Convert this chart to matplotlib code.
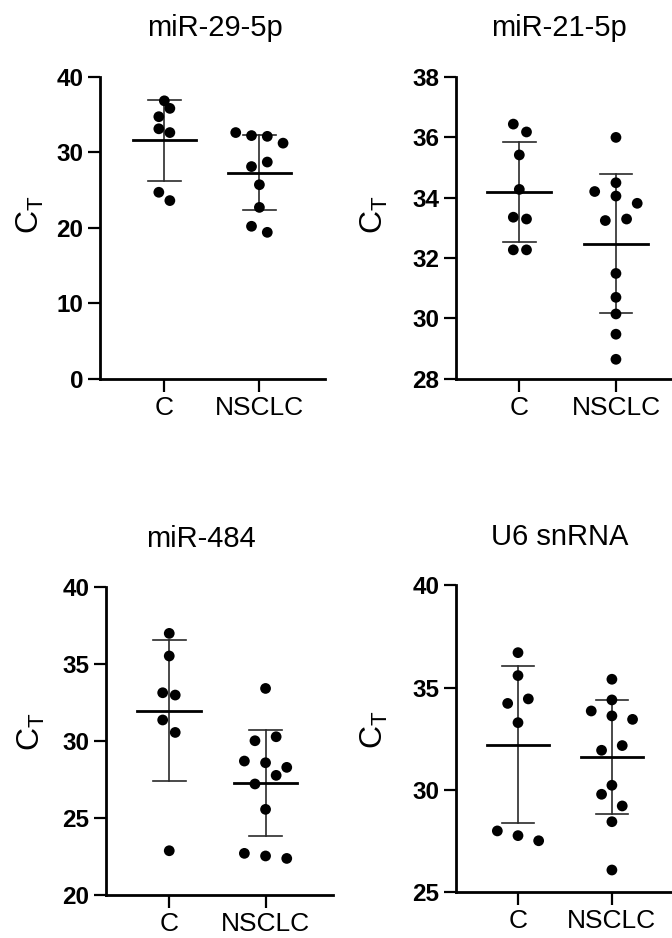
import matplotlib
matplotlib.use("Agg")
import matplotlib.pyplot as plt
import numpy as np

plt.rcParams['font.family'] = ['Liberation Sans', 'DejaVu Sans']
plt.rcParams['mathtext.fontset'] = 'custom'
plt.rcParams['mathtext.rm'] = 'Liberation Sans'
plt.rcParams['mathtext.it'] = 'Liberation Sans'

# ---------------- data ----------------
groups = ["C", "NSCLC"]
titles = ["miR-29-5p", "miR-21-5p", "miR-484", "U6 snRNA"]

mir29_c = [36.8, 35.8, 34.7, 33.1, 32.6, 24.7, 23.6]
mir29_n = [32.6, 32.2, 32.1, 31.2, 28.7, 28.1, 25.7, 22.7, 20.2, 19.4]
mir29_mean = [31.6, 27.3]
mir29_sd = [5.35, 5.0]

mir21_c = [36.43, 36.17, 35.41, 34.27, 33.35, 33.29, 32.27, 32.27]
mir21_n = [35.99, 34.49, 34.20, 34.05, 33.81, 33.29, 33.24, 31.49, 30.70, 30.15, 29.48, 28.65]
mir21_mean = [34.19, 32.47]
mir21_sd = [1.66, 2.30]

mir484_c = [37.01, 35.54, 33.15, 33.0, 31.38, 30.57, 22.88]
mir484_n = [33.43, 30.29, 30.03, 28.71, 28.60, 28.30, 27.78, 27.22, 25.57, 22.71, 22.54, 22.38]
mir484_mean = [31.98, 27.30]
mir484_sd = [4.57, 3.45]

u6_c = [36.71, 35.59, 34.45, 34.23, 33.29, 28.0, 27.77, 27.52]
u6_n = [35.41, 34.40, 33.86, 33.62, 33.45, 32.17, 31.94, 30.23, 29.79, 29.22, 28.45, 26.09]
u6_mean = [32.22, 31.60]
u6_sd = [3.82, 2.79]

y_ticks = [[0, 10, 20, 30, 40], [28, 30, 32, 34, 36, 38], [20, 25, 30, 35, 40], [25, 30, 35, 40]]

# ---------------- layout / style (not data) ----------------
jitter = [
    ([0, 1, -1, -1, 1, -1, 1], [-3, -1, 1, 3, 1, -1, 0, 0, -1, 1]),
    ([-1, 1.2, 0, 0, -1, 1.2, -1, 1.2], [0, 0, -2, 0, 2, 1, -1, 0, 0, 0, 0, 0]),
    ([0, 0, -1.1, 1, -1.1, 1, 0], [0, 1, -1, -2, 0, 2, 1, -1, 0, -2, 0, 2]),
    ([0, 0, 1, -1, 0, -2, 0, 2], [0, 0, -2, 0, 2, 1, -1, 0, -1, 1, 0, 0]),
]
jit_unit = [(0.058, 0.083), (0.062, 0.11), (0.062, 0.11), (0.11, 0.11)]
positions = [
    [0.1488, 0.596, 0.3348, 0.3223],
    [0.6786, 0.596, 0.3214, 0.3223],
    [0.1577, 0.0458, 0.3378, 0.328],
    [0.6786, 0.0487, 0.3214, 0.3273],
]
xlims = [(0.323, 2.69), (0.345, 2.58), (0.343, 2.70), (0.34, 2.64)]
title_x = [0.511, 0.477, 0.418, 0.481]
ylab_xy = [(-0.311, 0.5425), (-0.377, 0.5425), (-0.33, 0.531), (-0.377, 0.529)]

panels = [
    (mir29_c, mir29_n, mir29_mean, mir29_sd),
    (mir21_c, mir21_n, mir21_mean, mir21_sd),
    (mir484_c, mir484_n, mir484_mean, mir484_sd),
    (u6_c, u6_n, u6_mean, u6_sd),
]

fig = plt.figure(figsize=(6.72, 9.38), dpi=100)

for i, (cvals, nvals, means, sds) in enumerate(panels):
    ax = fig.add_axes(positions[i])
    xs = [1, 2]
    for g, vals in enumerate([cvals, nvals]):
        x = xs[g] + np.array(jitter[i][g], dtype=float) * jit_unit[i][g]
        m, s = means[g], sds[g]
        # SD error bar
        ax.plot([xs[g], xs[g]], [m - s, m + s], color='#2a2a2a', lw=1.2, zorder=2)
        for yy in (m - s, m + s):
            ax.plot([xs[g] - 0.17, xs[g] + 0.17], [yy, yy], color='#2a2a2a', lw=1.2, zorder=2)
        # mean line
        ax.plot([xs[g] - 0.33, xs[g] + 0.33], [m, m], color='black', lw=2.0, zorder=3)
        ax.scatter(x, vals, s=60, color='black', edgecolors='none', zorder=4)

    ax.set_xlim(*xlims[i])
    ax.set_ylim(y_ticks[i][0], y_ticks[i][-1])
    ax.set_yticks(y_ticks[i])
    ax.set_xticks(xs)
    ax.set_xticklabels(groups, fontsize=19)
    for lab in ax.get_yticklabels():
        lab.set_fontweight('bold')
        lab.set_fontsize(17.5)
    for sp in ['top', 'right']:
        ax.spines[sp].set_visible(False)
    for sp in ['left', 'bottom']:
        ax.spines[sp].set_linewidth(2.0)
    ax.tick_params(axis='both', length=9, width=1.6, pad=3, color='black')
    ax.set_title(titles[i], fontsize=21, x=title_x[i], pad=29)
    ax.set_ylabel(r'$\mathregular{C_T}$', fontsize=23, va='center')
    ax.yaxis.set_label_coords(*ylab_xy[i])
    ax.patch.set_visible(False)

fig.savefig("out.png", dpi=100)
